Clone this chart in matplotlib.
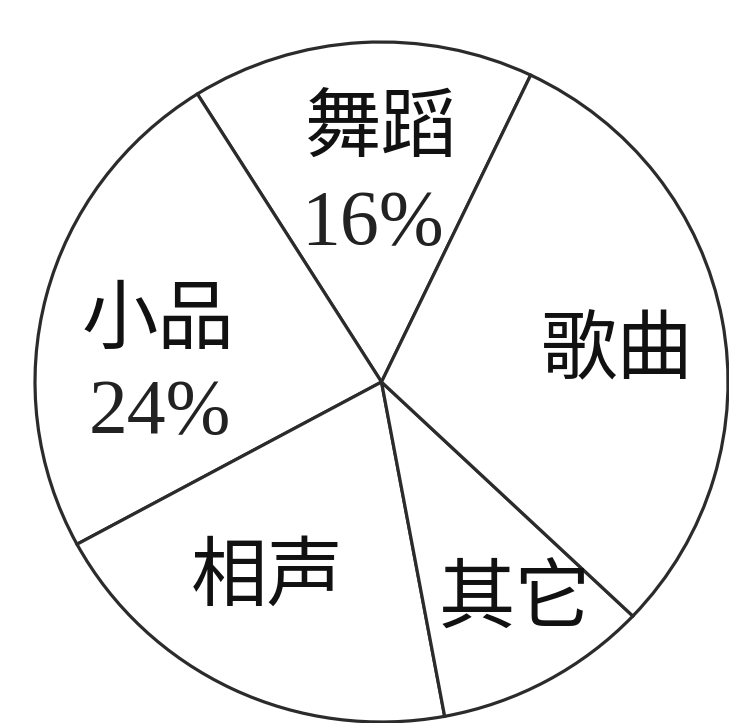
import matplotlib
matplotlib.use("Agg")
import matplotlib.pyplot as plt

# Data (counter-clockwise from the 舞蹈 slice)
categories = ["舞蹈", "小品", "相声", "其它", "歌曲"]
shares = [16, 24, 20, 10, 30]
show_pct = [True, True, False, False, False]

# label anchor positions (data coords), style only
name_pos = [(0.0, 0.74), (-0.645, 0.18), (-0.33, -0.575), (0.385, -0.645), (0.68, 0.09)]
pct_pos = [(-0.027, 0.46), (-0.64, -0.095), None, None, None]

fig = plt.figure(figsize=(7.29, 7.23), dpi=100)
ax = fig.add_axes([35 / 729, 1 / 723, 693 / 729, 680 / 723])
ax.pie(shares, startangle=64.5, counterclock=True, radius=1.0,
       colors=["white"] * len(shares),
       wedgeprops=dict(edgecolor="#2b2b2b", linewidth=2.3))
ax.set_aspect("auto")
ax.set_xlim(-1.0, 1.0)
ax.set_ylim(-1.0, 1.0)
ax.axis("off")

for i, name in enumerate(categories):
    x, y = name_pos[i]
    ax.text(x, y, name, ha="center", va="center", fontsize=55,
            family=["Noto Sans CJK SC", "DejaVu Sans"], color="#111111")
    if show_pct[i]:
        px, py = pct_pos[i]
        ax.text(px, py, f"{shares[i]}%", ha="center", va="center", fontsize=56,
                family=["Liberation Serif", "DejaVu Serif"], color="#222222")

fig.savefig("out.png", dpi=100, facecolor="white")
